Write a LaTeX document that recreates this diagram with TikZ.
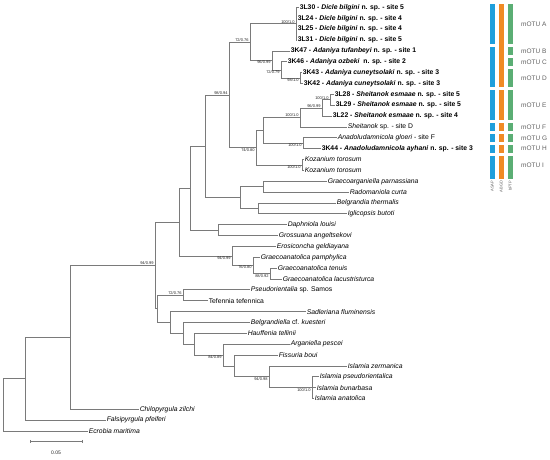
\documentclass[tikz,border=0pt]{standalone}
\usepackage{fontspec}
\setmainfont{Liberation Sans}
\definecolor{lg}{HTML}{7A7A7A}
\definecolor{asap}{HTML}{1E9FDC}
\definecolor{abgd}{HTML}{F08A24}
\definecolor{bptp}{HTML}{5BAE74}
\definecolor{motu}{HTML}{606060}
\tikzset{
 br/.style={draw=lg, line width=0.75pt},
 tip/.style={anchor=west, inner sep=0.6pt, font=\fontsize{6.8}{7}\selectfont\itshape},
 btip/.style={anchor=west, inner sep=0.6pt, font=\fontsize{6.8}{7}\selectfont\bfseries},
 supa/.style={anchor=south east, inner sep=0.4pt, xshift=-0.8pt, font=\fontsize{4}{4}\selectfont, text=black!85},
 supb/.style={anchor=north east, inner sep=0.4pt, xshift=-0.8pt, font=\fontsize{4}{4}\selectfont, text=black!85},
 motulab/.style={anchor=west, inner sep=0pt, font=\fontsize{6.5}{7}\selectfont, text=motu},
 methlab/.style={rotate=90, anchor=east, inner sep=0pt, font=\fontsize{4}{4}\selectfont, text=motu},
}
\newcommand\seg[4]{\fill[#1] (#2,#3-0.36) rectangle (#2+4.5,#4+0.36);}
\begin{document}
\begin{tikzpicture}[x=1pt,y=-10.86pt]
\useasboundingbox (0,0.309) rectangle (550,42.575);
% tips
\node[btip] (t1) at (299,1) {3L30 - \textit{Dicle bilgini} n. sp. - site 5};
\node[btip] (t2) at (297,2) {3L24 - \textit{Dicle bilgini} n. sp. - site 4};
\node[btip] (t3) at (297,3) {3L25 - \textit{Dicle bilgini} n. sp. - site 4};
\node[btip] (t4) at (297,4) {3L31 - \textit{Dicle bilgini} n. sp. - site 5};
\node[btip] (t5) at (290,5) {3K47 - \textit{Adaniya tufanbeyi} n. sp. - site 1};
\node[btip] (t6) at (287,6) {3K46 - \textit{Adaniya ozbeki}\ \ n. sp. - site 2};
\node[btip] (t7) at (302,7) {3K43 - \textit{Adaniya cuneytsolaki} n. sp. - site 3};
\node[btip] (t8) at (303,8) {3K42 - \textit{Adaniya cuneytsolaki} n. sp. - site 3};
\node[btip] (t9) at (334,9) {3L28 - \textit{Sheitanok esmaae} n. sp. - site 5};
\node[btip] (t10) at (335,10) {3L29 - \textit{Sheitanok esmaae} n. sp. - site 5};
\node[btip] (t11) at (332,11) {3L22 - \textit{Sheitanok esmaae} n. sp. - site 4};
\node[tip] (t12) at (347,12) {Sheitanok {\upshape sp. - site D}};
\node[tip] (t13) at (337,13) {Anadoludamnicola gloeri {\upshape - site F}};
\node[btip] (t14) at (321,14) {3K44 - \textit{Anadoludamnicola ayhani} n. sp. - site 3};
\node[tip] (t15) at (304,15) {Kozanium torosum};
\node[tip] (t16) at (304,16) {Kozanium torosum};
\node[tip] (t17) at (327,17) {Graecoarganiella parnassiana};
\node[tip] (t18) at (349,18) {Radomaniola curta};
\node[tip] (t19) at (336,19) {Belgrandia thermalis};
\node[tip] (t20) at (347,20) {Iglicopsis butoti};
\node[tip] (t21) at (287,21) {Daphniola louisi};
\node[tip] (t22) at (278,22) {Grossuana angeltsekovi};
\node[tip] (t23) at (276,23) {Erosiconcha geldiayana};
\node[tip] (t24) at (260,24) {Graecoanatolica pamphylica};
\node[tip] (t25) at (277,25) {Graecoanatolica tenuis};
\node[tip] (t26) at (282,26) {Graecoanatolica lacustristurca};
\node[tip] (t27) at (250,27) {Pseudorientalia {\upshape sp. Samos}};
\node[tip] (t28) at (208,28) {\upshape Tefennia tefennica};
\node[tip] (t29) at (306,29) {Sadleriana fluminensis};
\node[tip] (t30) at (250,30) {Belgrandiella {\upshape cf.} kuesteri};
\node[tip] (t31) at (247,31) {Hauffenia tellinii};
\node[tip] (t32) at (290,32) {Arganiella pescei};
\node[tip] (t33) at (278,33) {Fissuria boui};
\node[tip] (t34) at (347,34) {Islamia zermanica};
\node[tip] (t35) at (319,35) {Islamia pseudorientalica};
\node[tip] (t36) at (316,36) {Islamia bunarbasa};
\node[tip] (t37) at (314,37) {Islamia anatolica};
\node[tip] (t38) at (139,38) {Chilopyrgula zilchi};
\node[tip] (t39) at (106,39) {Falsipyrgula pfeiferi};
\node[tip] (t40) at (88,40) {Ecrobia maritima};
% internal nodes
\coordinate (nDi) at (296,2.5);
\coordinate (nA3) at (300,7.5);
\coordinate (nA2) at (281,6.75);
\coordinate (nA1) at (272,5.875);
\coordinate (n72) at (250,4.1875);
\coordinate (nS3) at (330,9.5);
\coordinate (nS2) at (322,10.25);
\coordinate (nS1) at (300,11.125);
\coordinate (nAn) at (303,13.5);
\coordinate (nSA) at (263,12.3125);
\coordinate (nK) at (302,15.5);
\coordinate (n74) at (256,13.906);
\coordinate (n98) at (229,9.047);
\coordinate (nGR) at (263,17.5);
\coordinate (nBI) at (258,19.5);
\coordinate (nGB) at (240,18.5);
\coordinate (n205) at (205,13.77);
\coordinate (nDG) at (218,21.5);
\coordinate (n190) at (190,17.64);
\coordinate (nG88) at (270,25.5);
\coordinate (nG76) at (253,24.75);
\coordinate (nG94) at (232,23.875);
\coordinate (n179) at (179,20.76);
\coordinate (nPT) at (183,27.5);
\coordinate (nI3) at (312,36);
\coordinate (nI2) at (269,35);
\coordinate (nI1) at (234,34);
\coordinate (nAr) at (223,33);
\coordinate (nHa) at (194,32);
\coordinate (nBe) at (183,31);
\coordinate (nSa) at (170,30);
\coordinate (n157) at (157,28.75);
\coordinate (n155) at (155,24.76);
\coordinate (n70) at (70,31.38);
\coordinate (n25) at (25,35.19);
\coordinate (root) at (3,37.6);
% branches
\draw[br] (root) |- (n25); \draw[br] (root) |- (t40.west);
\draw[br] (n25) |- (n70); \draw[br] (n25) |- (t39.west);
\draw[br] (n70) |- (n155); \draw[br] (n70) |- (t38.west);
\draw[br] (n155) |- (n179); \draw[br] (n155) |- (n157);
\draw[br] (n179) |- (n190); \draw[br] (n179) |- (nG94);
\draw[br] (n190) |- (n205); \draw[br] (n190) |- (nDG);
\draw[br] (n205) |- (n98); \draw[br] (n205) |- (nGB);
\draw[br] (n98) |- (n72); \draw[br] (n98) |- (n74);
\draw[br] (n72) |- (nDi); \draw[br] (n72) |- (nA1);
\foreach \t in {t1,t2,t3,t4} \draw[br] (nDi) |- (\t.west);
\draw[br] (nA1) |- (t5.west); \draw[br] (nA1) |- (nA2);
\draw[br] (nA2) |- (t6.west); \draw[br] (nA2) |- (nA3);
\draw[br] (nA3) |- (t7.west); \draw[br] (nA3) |- (t8.west);
\draw[br] (n74) |- (nSA); \draw[br] (n74) |- (nK);
\draw[br] (nSA) |- (nS1); \draw[br] (nSA) |- (nAn);
\draw[br] (nS1) |- (nS2); \draw[br] (nS1) |- (t12.west);
\draw[br] (nS2) |- (nS3); \draw[br] (nS2) |- (t11.west);
\draw[br] (nS3) |- (t9.west); \draw[br] (nS3) |- (t10.west);
\draw[br] (nAn) |- (t13.west); \draw[br] (nAn) |- (t14.west);
\draw[br] (nK) |- (t15.west); \draw[br] (nK) |- (t16.west);
\draw[br] (nGB) |- (nGR); \draw[br] (nGB) |- (nBI);
\draw[br] (nGR) |- (t17.west); \draw[br] (nGR) |- (t18.west);
\draw[br] (nBI) |- (t19.west); \draw[br] (nBI) |- (t20.west);
\draw[br] (nDG) |- (t21.west); \draw[br] (nDG) |- (t22.west);
\draw[br] (nG94) |- (t23.west); \draw[br] (nG94) |- (nG76);
\draw[br] (nG76) |- (t24.west); \draw[br] (nG76) |- (nG88);
\draw[br] (nG88) |- (t25.west); \draw[br] (nG88) |- (t26.west);
\draw[br] (n157) |- (nPT); \draw[br] (n157) |- (nSa);
\draw[br] (nPT) |- (t27.west); \draw[br] (nPT) |- (t28.west);
\draw[br] (nSa) |- (t29.west); \draw[br] (nSa) |- (nBe);
\draw[br] (nBe) |- (t30.west); \draw[br] (nBe) |- (nHa);
\draw[br] (nHa) |- (t31.west); \draw[br] (nHa) |- (nAr);
\draw[br] (nAr) |- (t32.west); \draw[br] (nAr) |- (nI1);
\draw[br] (nI1) |- (t33.west); \draw[br] (nI1) |- (nI2);
\draw[br] (nI2) |- (t34.west); \draw[br] (nI2) |- (nI3);
\foreach \t in {t35,t36,t37} \draw[br] (nI3) |- (\t.west);
% support values
\node[supa] (sDi) at (nDi) {100/1.0};
\node[supa] (s72) at (n72) {72/0.76};
\node[supb] (sA1) at (nA1) {96/0.99};
\node[supb] (sA2) at (nA2) {72/0.79};
\node[supb] (sA3) at (nA3) {98/1.0};
\node[supa] (sS3) at (nS3) {100/1.0};
\node[supa] (sS2) at (nS2) {96/0.99};
\node[supa] (sS1) at (nS1) {100/1.0};
\node[supb] (sAn) at (nAn) {100/1.0};
\node[supb] (sK) at (nK) {100/1.0};
\node[supb] (s74) at (n74) {74/0.80};
\node[supa] (s98) at (n98) {98/0.94};
\node[supb] (sG94) at (nG94) {94/0.99};
\node[supb] (sG76) at (nG76) {76/0.80};
\node[supb] (sG88) at (nG88) {88/0.92};
\node[supa] (s155) at (n155) {94/0.99};
\node[supa] (sPT) at (nPT) {72/0.76};
\node[supb] (sAr) at (nAr) {84/0.89};
\node[supb] (sI2) at (nI2) {94/0.98};
\node[supb] (sI3) at (nI3) {100/1.0};
% species delimitation bars
\seg{asap}{490}{1}{4} \seg{asap}{490}{5}{8} \seg{asap}{490}{9}{11}
\seg{asap}{490}{12}{12} \seg{asap}{490}{13}{13} \seg{asap}{490}{14}{14} \seg{asap}{490}{15}{16.4}
\seg{abgd}{499}{1}{8} \seg{abgd}{499}{9}{11}
\seg{abgd}{499}{12}{12} \seg{abgd}{499}{13}{13} \seg{abgd}{499}{14}{14} \seg{abgd}{499}{15}{16.4}
\seg{bptp}{508}{1}{4} \seg{bptp}{508}{5}{5} \seg{bptp}{508}{6}{6} \seg{bptp}{508}{7}{8} \seg{bptp}{508}{9}{11}
\seg{bptp}{508}{12}{12} \seg{bptp}{508}{13}{13} \seg{bptp}{508}{14}{14} \seg{bptp}{508}{15}{16.4}
\node[methlab] (mASAP) at (492.25,16.95) {ASAP};
\node[methlab] (mABGD) at (501.25,16.95) {ABGD};
\node[methlab] (mBPTP) at (510.25,16.95) {bPTP};
\node[motulab] (mA) at (521,2.5) {mOTU A};
\node[motulab] (mB) at (521,5) {mOTU B};
\node[motulab] (mC) at (521,6) {mOTU C};
\node[motulab] (mD) at (521,7.5) {mOTU D};
\node[motulab] (mE) at (521,10) {mOTU E};
\node[motulab] (mF) at (521,12) {mOTU F};
\node[motulab] (mG) at (521,13) {mOTU G};
\node[motulab] (mH) at (521,14) {mOTU H};
\node[motulab] (mI) at (521,15.5) {mOTU I};
% scale bar
\coordinate (sbL) at (30,40.95);
\coordinate (sbR) at (82,40.95);
\draw[br, line width=0.6pt] (sbL) -- (sbR);
\draw[br, line width=0.6pt] ([yshift=1.5pt]sbL) -- ([yshift=-1.5pt]sbL);
\draw[br, line width=0.6pt] ([yshift=1.5pt]sbR) -- ([yshift=-1.5pt]sbR);
\node[font=\fontsize{5}{5}\selectfont, text=black!85, inner sep=0pt] (sblab) at (56,42.0) {0.05};
\end{tikzpicture}
\end{document}
